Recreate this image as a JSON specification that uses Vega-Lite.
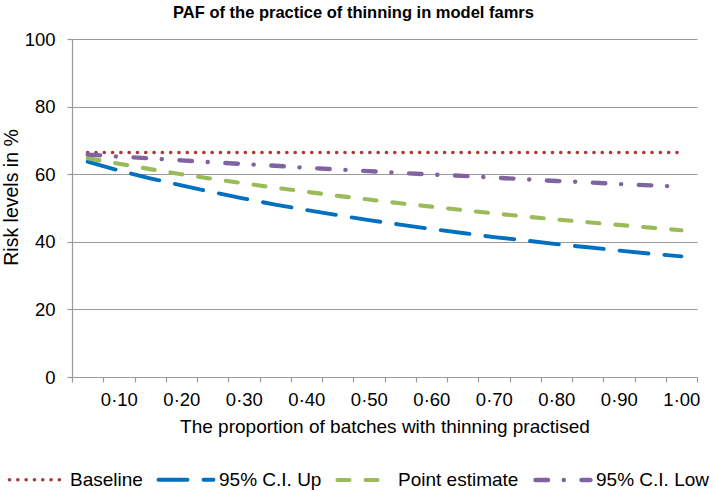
{
  "$schema": "https://vega.github.io/schema/vega-lite/v6.json",
  "autosize": {"type": "none"},
  "width": 625,
  "height": 338,
  "padding": {"left": 72, "top": 39, "right": 17, "bottom": 114},
  "title": {
    "text": "PAF of the practice of thinning in model famrs",
    "fontSize": 16.5,
    "fontWeight": "bold",
    "font": "Liberation Sans",
    "color": "#000000",
    "anchor": "middle",
    "frame": "group",
    "baseline": "bottom",
    "offset": -7,
    "dx": -31
  },
  "data": {
    "values": [
      {"p": 0.05, "series": "Baseline", "v": 66.4},
      {"p": 0.10, "series": "Baseline", "v": 66.4},
      {"p": 0.15, "series": "Baseline", "v": 66.4},
      {"p": 0.20, "series": "Baseline", "v": 66.4},
      {"p": 0.25, "series": "Baseline", "v": 66.4},
      {"p": 0.30, "series": "Baseline", "v": 66.4},
      {"p": 0.35, "series": "Baseline", "v": 66.4},
      {"p": 0.40, "series": "Baseline", "v": 66.4},
      {"p": 0.45, "series": "Baseline", "v": 66.4},
      {"p": 0.50, "series": "Baseline", "v": 66.4},
      {"p": 0.55, "series": "Baseline", "v": 66.4},
      {"p": 0.60, "series": "Baseline", "v": 66.4},
      {"p": 0.65, "series": "Baseline", "v": 66.4},
      {"p": 0.70, "series": "Baseline", "v": 66.4},
      {"p": 0.75, "series": "Baseline", "v": 66.4},
      {"p": 0.80, "series": "Baseline", "v": 66.4},
      {"p": 0.85, "series": "Baseline", "v": 66.4},
      {"p": 0.90, "series": "Baseline", "v": 66.4},
      {"p": 0.95, "series": "Baseline", "v": 66.4},
      {"p": 1.00, "series": "Baseline", "v": 66.4},
      {"p": 0.05, "series": "95% C.I. Up", "v": 63.7},
      {"p": 0.10, "series": "95% C.I. Up", "v": 61.1},
      {"p": 0.15, "series": "95% C.I. Up", "v": 58.8},
      {"p": 0.20, "series": "95% C.I. Up", "v": 56.7},
      {"p": 0.25, "series": "95% C.I. Up", "v": 54.7},
      {"p": 0.30, "series": "95% C.I. Up", "v": 52.8},
      {"p": 0.35, "series": "95% C.I. Up", "v": 51.0},
      {"p": 0.40, "series": "95% C.I. Up", "v": 49.4},
      {"p": 0.45, "series": "95% C.I. Up", "v": 47.9},
      {"p": 0.50, "series": "95% C.I. Up", "v": 46.4},
      {"p": 0.55, "series": "95% C.I. Up", "v": 45.1},
      {"p": 0.60, "series": "95% C.I. Up", "v": 43.8},
      {"p": 0.65, "series": "95% C.I. Up", "v": 42.6},
      {"p": 0.70, "series": "95% C.I. Up", "v": 41.4},
      {"p": 0.75, "series": "95% C.I. Up", "v": 40.4},
      {"p": 0.80, "series": "95% C.I. Up", "v": 39.3},
      {"p": 0.85, "series": "95% C.I. Up", "v": 38.4},
      {"p": 0.90, "series": "95% C.I. Up", "v": 37.4},
      {"p": 0.95, "series": "95% C.I. Up", "v": 36.5},
      {"p": 1.00, "series": "95% C.I. Up", "v": 35.7},
      {"p": 0.05, "series": "Point estimate", "v": 64.7},
      {"p": 0.10, "series": "Point estimate", "v": 63.1},
      {"p": 0.15, "series": "Point estimate", "v": 61.5},
      {"p": 0.20, "series": "Point estimate", "v": 60.0},
      {"p": 0.25, "series": "Point estimate", "v": 58.6},
      {"p": 0.30, "series": "Point estimate", "v": 57.3},
      {"p": 0.35, "series": "Point estimate", "v": 56.0},
      {"p": 0.40, "series": "Point estimate", "v": 54.8},
      {"p": 0.45, "series": "Point estimate", "v": 53.6},
      {"p": 0.50, "series": "Point estimate", "v": 52.5},
      {"p": 0.55, "series": "Point estimate", "v": 51.4},
      {"p": 0.60, "series": "Point estimate", "v": 50.4},
      {"p": 0.65, "series": "Point estimate", "v": 49.4},
      {"p": 0.70, "series": "Point estimate", "v": 48.4},
      {"p": 0.75, "series": "Point estimate", "v": 47.5},
      {"p": 0.80, "series": "Point estimate", "v": 46.6},
      {"p": 0.85, "series": "Point estimate", "v": 45.8},
      {"p": 0.90, "series": "Point estimate", "v": 45.0},
      {"p": 0.95, "series": "Point estimate", "v": 44.2},
      {"p": 1.00, "series": "Point estimate", "v": 43.4},
      {"p": 0.05, "series": "95% C.I. Low", "v": 65.8},
      {"p": 0.10, "series": "95% C.I. Low", "v": 65.2},
      {"p": 0.15, "series": "95% C.I. Low", "v": 64.7},
      {"p": 0.20, "series": "95% C.I. Low", "v": 64.1},
      {"p": 0.25, "series": "95% C.I. Low", "v": 63.5},
      {"p": 0.30, "series": "95% C.I. Low", "v": 63.0},
      {"p": 0.35, "series": "95% C.I. Low", "v": 62.5},
      {"p": 0.40, "series": "95% C.I. Low", "v": 61.9},
      {"p": 0.45, "series": "95% C.I. Low", "v": 61.4},
      {"p": 0.50, "series": "95% C.I. Low", "v": 60.9},
      {"p": 0.55, "series": "95% C.I. Low", "v": 60.4},
      {"p": 0.60, "series": "95% C.I. Low", "v": 59.9},
      {"p": 0.65, "series": "95% C.I. Low", "v": 59.5},
      {"p": 0.70, "series": "95% C.I. Low", "v": 59.0},
      {"p": 0.75, "series": "95% C.I. Low", "v": 58.5},
      {"p": 0.80, "series": "95% C.I. Low", "v": 58.0},
      {"p": 0.85, "series": "95% C.I. Low", "v": 57.6},
      {"p": 0.90, "series": "95% C.I. Low", "v": 57.1},
      {"p": 0.95, "series": "95% C.I. Low", "v": 56.7},
      {"p": 1.00, "series": "95% C.I. Low", "v": 56.3}
    ]
  },
  "mark": {"type": "line", "strokeCap": "round", "strokeJoin": "round"},
  "encoding": {
    "x": {
      "field": "p",
      "type": "ordinal",
      "scale": {"type": "band", "paddingInner": 0, "paddingOuter": 0},
      "axis": {
        "title": "The proportion of batches  with thinning practised",
        "labelAngle": 0,
        "tickBand": "extent",
        "labelOverlap": false,
        "labelFlush": false,
        "labelExpr": "round(datum.value*100) % 10 == 0 ? replace(format(datum.value, '.2f'), '.', '·') : ''",
        "labelFontSize": 18.5,
        "labelPadding": 8,
        "titleFontSize": 19,
        "titlePadding": 9,
        "tickSize": 5,
        "grid": false
      }
    },
    "y": {
      "field": "v",
      "type": "quantitative",
      "scale": {"domain": [0, 100], "nice": false},
      "axis": {
        "title": "Risk levels in %",
        "values": [0, 20, 40, 60, 80, 100],
        "labelFontSize": 18.5,
        "labelPadding": 12,
        "tickSize": 5,
        "titleFontSize": 19.5,
        "titleX": -61,
        "titleY": 158,
        "titleBaseline": "middle",
        "grid": true
      }
    },
    "color": {
      "field": "series",
      "type": "nominal",
      "scale": {
        "domain": ["Baseline", "95% C.I. Up", "Point estimate", "95% C.I. Low"],
        "range": ["#A93A37", "#0070C0", "#9BBB59", "#8064A2"]
      },
      "legend": {
        "title": null,
        "encode": {"symbols": {"update": {"strokeCap": {"value": "round"}}}}
      }
    },
    "strokeDash": {
      "field": "series",
      "type": "nominal",
      "scale": {
        "domain": ["Baseline", "95% C.I. Up", "Point estimate", "95% C.I. Low"],
        "range": [[0.1, 8.2], [29, 16], [12, 16], [12.5, 15.75, 0.1, 17.65]]
      },
      "legend": {
        "title": null,
        "encode": {"symbols": {"update": {"strokeCap": {"value": "round"}}}}
      }
    },
    "strokeWidth": {
      "field": "series",
      "type": "nominal",
      "scale": {
        "domain": ["Baseline", "95% C.I. Up", "Point estimate", "95% C.I. Low"],
        "range": [3.6, 4.4, 3.8, 3.8]
      },
      "legend": null
    }
  },
  "config": {
    "font": "Liberation Sans",
    "view": {"stroke": null},
    "axis": {
      "domainColor": "#9a9a9a",
      "domainWidth": 1.2,
      "tickColor": "#9a9a9a",
      "tickWidth": 1.2,
      "gridColor": "#9a9a9a",
      "gridWidth": 1.2,
      "gridOpacity": 1,
      "labelColor": "#000000",
      "titleColor": "#000000",
      "titleFontWeight": "normal",
      "labelFont": "Liberation Sans",
      "titleFont": "Liberation Sans"
    },
    "legend": {
      "orient": "none",
      "legendX": -65,
      "legendY": 411,
      "direction": "horizontal",
      "columns": 4,
      "padding": 0,
      "symbolType": "stroke",
      "symbolSize": 3025,
      "symbolStrokeWidth": 3.8,
      "labelFontSize": 19,
      "labelColor": "#000000",
      "labelFont": "Liberation Sans",
      "labelOffset": 3,
      "columnPadding": 7,
      "labelLimit": 300
    }
  }
}
